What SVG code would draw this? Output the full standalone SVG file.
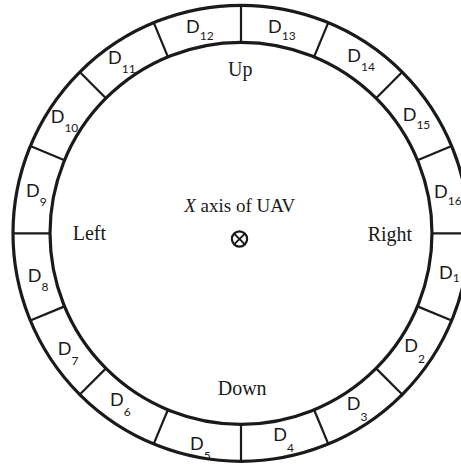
<svg xmlns="http://www.w3.org/2000/svg" width="461" height="466" viewBox="0 0 461 466">
<style>
.ring{fill:none;stroke:#1a1a1a;stroke-width:3.2}
.div{stroke:#1a1a1a;stroke-width:2.2}
.d{font-family:Lato,"Open Sans","Liberation Sans",sans-serif;font-size:18px;fill:#1a1a1a}
.s{font-size:12px}
.lbl{font-family:"Liberation Serif","Times New Roman",serif;font-size:20px;fill:#1a1a1a}
</style>
<rect width="461" height="466" fill="#fff"/>
<g id="ring">
<circle class="ring" cx="241" cy="233.3" r="228"/>
<circle class="ring" cx="241" cy="233.3" r="191"/>
</g>
<g id="connectors">
<line class="div" x1="432" y1="233.3" x2="469" y2="233.3"/>
<line class="div" x1="417.46" y1="160.21" x2="451.64" y2="146.05"/>
<line class="div" x1="376.06" y1="98.24" x2="402.22" y2="72.08"/>
<line class="div" x1="314.09" y1="56.84" x2="328.25" y2="22.66"/>
<line class="div" x1="241" y1="42.3" x2="241" y2="5.3"/>
<line class="div" x1="167.91" y1="56.84" x2="153.75" y2="22.66"/>
<line class="div" x1="105.94" y1="98.24" x2="79.78" y2="72.08"/>
<line class="div" x1="64.54" y1="160.21" x2="30.36" y2="146.05"/>
<line class="div" x1="50" y1="233.3" x2="13" y2="233.3"/>
<line class="div" x1="64.54" y1="306.39" x2="30.36" y2="320.55"/>
<line class="div" x1="105.94" y1="368.36" x2="79.78" y2="394.52"/>
<line class="div" x1="167.91" y1="409.76" x2="153.75" y2="443.94"/>
<line class="div" x1="241" y1="424.3" x2="241" y2="461.3"/>
<line class="div" x1="314.09" y1="409.76" x2="328.25" y2="443.94"/>
<line class="div" x1="376.06" y1="368.36" x2="402.22" y2="394.52"/>
<line class="div" x1="417.46" y1="306.39" x2="451.64" y2="320.55"/>
</g>
<g id="D1"><text class="d" x="439" y="278.5">D<tspan class="s" dy="3">1</tspan></text></g>
<g id="D2"><text class="d" x="404.3" y="352">D<tspan class="s" dy="11">2</tspan></text></g>
<g id="D3"><text class="d" x="346.7" y="410">D<tspan class="s" dy="11">3</tspan></text></g>
<g id="D4"><text class="d" x="273.3" y="441">D<tspan class="s" dy="11">4</tspan></text></g>
<g id="D5"><text class="d" x="190" y="450">D<tspan class="s" dy="10">5</tspan></text></g>
<g id="D6"><text class="d" x="110" y="406">D<tspan class="s" dy="10">6</tspan></text></g>
<g id="D7"><text class="d" x="57.7" y="355">D<tspan class="s" dy="10">7</tspan></text></g>
<g id="D8"><text class="d" x="27.7" y="281.7">D<tspan class="s" dy="9">8</tspan></text></g>
<g id="D9"><text class="d" x="26" y="196.7">D<tspan class="s" dy="9.5">9</tspan></text></g>
<g id="D10"><text class="d" x="50.7" y="123.3">D<tspan class="s" dy="8.4">10</tspan></text></g>
<g id="D11"><text class="d" x="108" y="64.3">D<tspan class="s" dy="8.4">11</tspan></text></g>
<g id="D12"><text class="d" x="186" y="33.3">D<tspan class="s" dy="7">12</tspan></text></g>
<g id="D13"><text class="d" x="268" y="32.8">D<tspan class="s" dy="7">13</tspan></text></g>
<g id="D14"><text class="d" x="347.3" y="62.3">D<tspan class="s" dy="8.7">14</tspan></text></g>
<g id="D15"><text class="d" x="402.7" y="120.7">D<tspan class="s" dy="8.6">15</tspan></text></g>
<g id="D16"><text class="d" x="434" y="197.8">D<tspan class="s" dy="7">16</tspan></text></g>
<g id="Up"><text class="lbl" x="240.3" y="76" text-anchor="middle">Up</text></g>
<g id="Left"><text class="lbl" x="72.7" y="240">Left</text></g>
<g id="Right"><text class="lbl" x="367.7" y="241">Right</text></g>
<g id="Down"><text class="lbl" x="217.7" y="395">Down</text></g>
<g id="axis">
<text class="lbl" x="239.7" y="212" text-anchor="middle" style="font-size:19px"><tspan font-style="italic">X</tspan> axis of UAV</text>
<circle cx="239.5" cy="239" r="7.6" fill="none" stroke="#1a1a1a" stroke-width="2.2"/>
<path d="M234.1 233.6L244.9 244.4M244.9 233.6L234.1 244.4" stroke="#1a1a1a" stroke-width="2"/>
</g>
</svg>
